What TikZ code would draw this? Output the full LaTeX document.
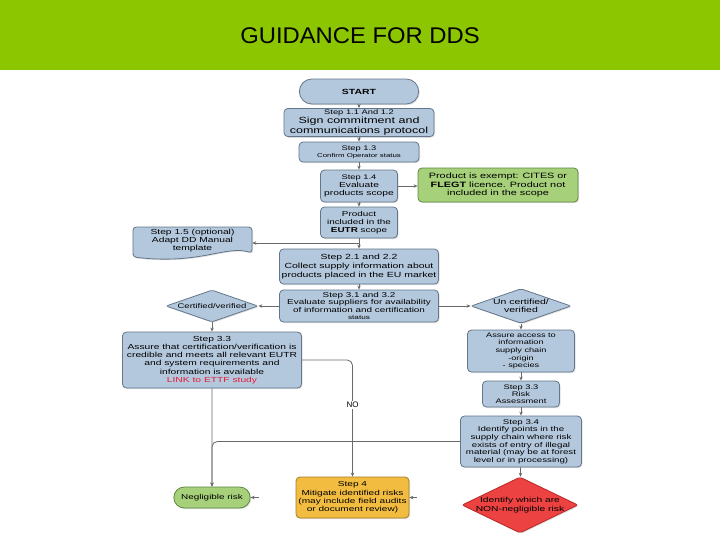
\documentclass[tikz,border=0pt]{standalone}
\usepackage{fontspec}
\setmainfont{Liberation Sans}
\newfontfamily\boxfont{Liberation Sans}[FakeStretch=1.4]
\newfontfamily\titlefont{Liberation Sans}[FakeStretch=1.05]
\usetikzlibrary{shapes.geometric,shapes.misc,arrows.meta,shadows,calc}
\definecolor{hdr}{RGB}{140,198,0}
\definecolor{bfill}{RGB}{180,200,221}
\definecolor{bdraw}{RGB}{100,118,138}
\definecolor{gfill}{RGB}{166,208,122}
\definecolor{gdraw}{RGB}{95,135,65}
\definecolor{ofill}{RGB}{242,188,64}
\definecolor{odraw}{RGB}{165,125,40}
\definecolor{rfill}{RGB}{236,66,66}
\definecolor{rdraw}{RGB}{185,40,40}
\definecolor{lnk}{RGB}{228,28,58}
\definecolor{connc}{RGB}{105,105,105}
\newcommand\fs[2]{\boxfont\fontsize{#1}{#2}\selectfont}
\tikzset{
  base/.style={draw=bdraw, fill=bfill, line width=0.6pt, align=center, inner sep=1pt,
    drop shadow={opacity=0.25, shadow xshift=0.8pt, shadow yshift=-0.8pt}},
  box/.style={base, rectangle, rounded corners=3pt},
  pill/.style={base, rounded rectangle},
  dia/.style={base, diamond, rounded corners=1.5pt, inner sep=0pt},
  txt/.style={align=center, inner sep=0pt},
  conn/.style={draw=connc, line width=0.6pt, -{Stealth[length=3pt,width=2.6pt]}}
}
\begin{document}
\begin{tikzpicture}[x=0.75pt,y=-0.75pt]
\useasboundingbox (0,0) rectangle (720,540);
\fill[white] (0,0) rectangle (720,540);
\fill[hdr] (0,0) rectangle (720,70);
\node[font=\titlefont\fontsize{17}{20}\selectfont] (title) at (360,36) {GUIDANCE FOR DDS};

% main column
\node[pill, minimum width=91.5pt, minimum height=18.75pt, font=\boxfont\bfseries\fontsize{5.6}{6}\selectfont] (start) at (359,91.5) {START};
\node[box, minimum width=112.5pt, minimum height=18.75pt, font=\fs{6.7}{5.3}] (s11) at (359,122.5) {{\fontsize{5}{5.3}\selectfont Step 1.1 And 1.2}\\Sign commitment and\\communications protocol};
\node[box, minimum width=90pt, minimum height=15pt, font=\fs{5}{5.5}] (s13) at (359,152) {Step 1.3\\{\fontsize{4.2}{5}\selectfont Confirm Operator status}};
\node[box, minimum width=57.75pt, minimum height=24pt, font=\fs{5.5}{6}] (s14) at (359,186) {{\fontsize{5}{6}\selectfont Step 1.4}\\Evaluate\\products scope};
\node[box, draw=gdraw, fill=gfill, minimum width=120pt, minimum height=25.5pt, font=\fs{5.8}{6.6}] (exempt) at (498,185) {Product is exempt: CITES or\\\textbf{FLEGT} licence. Product not\\included in the scope};
\node[box, minimum width=57.75pt, minimum height=23.25pt, font=\fs{5.3}{6}] (incl) at (359,222.5) {Product\\included in the\\\textbf{EUTR} scope};

% step 1.5 document shape
\filldraw[draw=bdraw, fill=bfill, line width=0.6pt, rounded corners=2.5pt,
  drop shadow={opacity=0.25, shadow xshift=0.8pt, shadow yshift=-0.8pt}]
  (133,257) -- (133,227) -- (252,227) -- (252,253)
  .. controls (226,245) and (200,265) .. (133,257) -- cycle;
\node[txt, minimum width=89.25pt, minimum height=20.25pt, font=\fs{5.5}{6}] (s15) at (192.5,241) {Step 1.5 (optional)\\Adapt DD Manual\\template};

\node[box, minimum width=119.25pt, minimum height=26.25pt, font=\fs{5.6}{7}] (s21) at (359,266.5) {Step 2.1 and 2.2\\Collect supply information about\\products placed in the EU market};
\node[box, minimum width=119.25pt, minimum height=24pt, font=\fs{5.3}{5.4}] (s31) at (359,306) {Step 3.1 and 3.2\\Evaluate suppliers for availability\\of information and certification\\{\fontsize{4.4}{5.4}\selectfont status}};

% diamonds
\node[dia, minimum width=69pt, minimum height=24pt] (cert) at (212,306) {};
\node[txt, font=\fs{5.1}{6}] (certt) at (cert) {Certified/verified};
\node[dia, minimum width=75pt, minimum height=26pt] (unc) at (521,306) {};
\node[txt, font=\fs{5.6}{6.3}] (unct) at (unc) {Un certified/\\verified};

% left column
\node[box, minimum width=134.25pt, minimum height=42pt, font=\fs{5.5}{6.1}] (s33) at (212,360) {Step 3.3\\Assure that certification/verification is\\credible and meets all relevant EUTR\\and system requirements and\\information is available\\\textcolor{lnk}{LINK to ETTF study}};
\node[pill, draw=gdraw, fill=gfill, minimum width=59.25pt, minimum height=15.75pt, font=\fs{5.3}{6}] (neg) at (212,497.5) {Negligible risk};

% right column
\node[box, minimum width=80.25pt, minimum height=31.5pt, font=\fs{4.9}{5.7}] (access) at (521,351) {Assure access to\\information\\supply chain\\-origin\\- species};
\node[box, minimum width=57.75pt, minimum height=19.5pt, font=\fs{5}{5.4}] (risk) at (521,394) {Step 3.3\\Risk\\Assessment};
\node[box, minimum width=90.75pt, minimum height=38.25pt, font=\fs{5.2}{5.7}] (s34) at (521,441.5) {Step 3.4\\Identify points in the\\supply chain where risk\\exists of entry of illegal\\material (may be at forest\\level or in processing)};
\node[dia, draw=rdraw, fill=rfill, minimum width=87pt, minimum height=42pt] (red) at (520,505) {};
\node[txt, font=\fs{5.5}{6.5}] (redt) at (red) {Identify which are\\NON-negligible risk};

% step 4
\node[box, draw=odraw, fill=ofill, minimum width=84.75pt, minimum height=30.75pt, font=\fs{5.4}{6.2}] (s4) at (352.5,497.5) {Step 4\\Mitigate identified risks\\(may include field audits\\or document review)};

% connectors
\draw[conn] (start) -- (s11);
\draw[conn] (s11) -- (s13);
\draw[conn] (s13) -- (s14);
\draw[conn] (s14) -- (incl);
\draw[conn] (s14.east) -- (s14.east -| exempt.west);
\draw[conn] (incl) -- (s21);
\coordinate (br) at (359,243);
\draw[conn] (br) -- (br -| s15.east);
\draw[conn] (s21) -- (s31);
\draw[conn] (s31.west) -- (cert.east);
\draw[conn] (s31.east) -- (unc.west);
\draw[conn] (cert) -- (s33);
\draw[conn] (unc) -- (access);
\draw[conn] (access) -- (risk);
\draw[conn] (risk) -- (s34);
\draw[conn] (s34) -- (red);
\draw[conn] (s33) -- (neg);
\draw[conn, rounded corners=4pt] (s34.west) -| (neg.north);
\draw[conn, rounded corners=4pt] (s33.east) -| (s4.north);
\node[fill=white, inner sep=1pt, font=\fontsize{6}{7}\selectfont] (no) at (352.5,405) {NO};
\coordinate (na) at (259,497.5);
\draw[conn] (na) -- (neg.east);
\coordinate (sa) at (417,497.5);
\draw[conn] (sa) -- (s4.east);
\end{tikzpicture}
\end{document}
